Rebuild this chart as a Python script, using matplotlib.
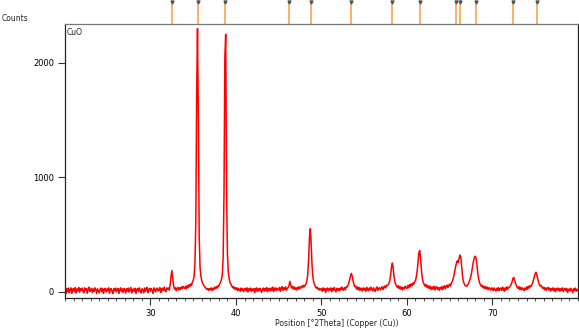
import numpy as np
import matplotlib
matplotlib.use("Agg")
import matplotlib.pyplot as plt
from matplotlib.ticker import MultipleLocator

# 2Theta grid (0.1 deg step) and counts, one row per degree
two_theta = np.round(np.arange(200, 801) / 10.0, 1)
counts = [
    10, -16, 26, 2, 32, -10, 18, 34, -14, 22,       # 20
    28, 0, 36, -12, 24, 8, 38, -4, 26, 12,          # 21
    32, 4, -10, 34, 10, 28, -14, 22, 40, 2,         # 22
    14, 30, -8, 24, 4, 34, 18, -16, 26, 8,          # 23
    -10, 22, 32, 0, 28, -14, 16, 30, -2, 24,        # 24
    8, 34, -12, 20, 28, 2, -16, 26, 10, 32,         # 25
    -2, 22, 30, -14, 18, 34, 4, 24, -8, 28,         # 26
    18, -12, 26, 6, 32, -4, 22, 36, -10, 16,        # 27
    24, 2, 30, -16, 22, 28, 0, 34, 8, -12,          # 28
    26, 12, -10, 32, 4, 24, 38, -8, 18, 30,         # 29
    4, 28, 10, -14, 34, 20, -2, 26, 32, 6,          # 30
    16, 36, -6, 24, 30, 8, 40, 14, 0, 34,           # 31
    20, 32, 14, 60, 130, 185, 120, 55, 24, 34,      # 32
    8, 30, 38, 14, 34, 20, 42, 26, 46, 34,          # 33
    28, 48, 24, 54, 36, 60, 46, 68, 56, 84,         # 34
    98, 135, 250, 600, 1700, 2300, 1500, 480, 210, 135,  # 35
    95, 74, 58, 48, 40, 28, 20, 30, 12, 26,         # 36
    16, 34, 10, 30, 18, 40, 26, 44, 32, 52,         # 37
    50, 70, 82, 108, 145, 300, 850, 2050, 2250, 900,  # 38
    330, 175, 115, 82, 66, 48, 36, 46, 24, 36,      # 39
    18, 34, 8, 30, 16, 4, 32, 12, 26, 0,            # 40
    22, 30, 6, 34, -2, 26, 12, 32, 4, 24,           # 41
    10, 28, -8, 22, 34, 2, 26, 8, 30, 14,           # 42
    -6, 24, 32, 4, 28, 10, 36, 0, 22, 30,           # 43
    6, 32, 12, 40, 2, 26, 34, 10, 30, 18,           # 44
    16, 38, 4, 30, 44, 12, 34, 20, 42, 14,          # 45
    30, 38, 52, 90, 62, 34, 48, 24, 42, 20,         # 46
    34, 16, 38, 22, 44, 26, 40, 50, 36, 56,         # 47
    44, 56, 70, 95, 150, 280, 470, 550, 420, 230,   # 48
    130, 85, 60, 44, 32, 40, 22, 30, 14, 26,        # 49
    24, 4, 34, 12, 28, -6, 22, 32, 8, 26,           # 50
    14, 34, 2, 28, 10, 38, 18, -2, 30, 12,          # 51
    26, 8, 32, 16, 40, 22, 12, 36, 18, 42,          # 52
    40, 55, 75, 105, 140, 160, 135, 95, 65, 45,     # 53
    48, 24, 42, 18, 36, 10, 32, 20, 6, 34,          # 54
    16, 30, 4, 38, 18, 8, 32, 14, 40, 20,           # 55
    6, 34, 18, 2, 30, 42, 12, 28, 36, 16,           # 56
    30, 44, 20, 38, 50, 32, 56, 52, 62, 74,         # 57
    100, 150, 215, 250, 200, 130, 85, 62, 48, 38,   # 58
    52, 28, 44, 22, 40, 16, 36, 26, 48, 36,         # 59
    28, 54, 34, 62, 44, 68, 52, 76, 66, 86,         # 60
    96, 130, 180, 260, 340, 360, 290, 190, 120, 85,  # 61
    68, 50, 64, 40, 54, 32, 50, 26, 44, 18,         # 62
    40, 24, 48, 16, 36, 44, 20, 34, 12, 38,         # 63
    24, 46, 18, 40, 52, 26, 44, 58, 36, 54,         # 64
    66, 50, 74, 88, 112, 140, 180, 220, 250, 270,   # 65
    255, 290, 320, 310, 220, 140, 95, 70, 55, 50,   # 66
    48, 62, 70, 90, 110, 140, 180, 230, 270, 300,   # 67
    310, 290, 230, 160, 110, 80, 62, 48, 56, 36,    # 68
    48, 28, 44, 24, 40, 18, 36, 26, 14, 34,         # 69
    28, 10, 34, 18, 6, 30, 14, 36, 8, 26,           # 70
    32, 12, 40, 20, 4, 34, 16, 42, 22, 38,          # 71
    40, 50, 64, 85, 115, 125, 100, 72, 52, 40,      # 72
    30, 44, 20, 38, 16, 34, 24, 10, 32, 18,         # 73
    40, 22, 48, 32, 52, 44, 58, 75, 100, 130,       # 74
    155, 170, 150, 115, 85, 62, 50, 56, 40, 30,     # 75
    40, 18, 34, 12, 30, 38, 16, 32, 6, 26,          # 76
    14, 34, 8, 28, 0, 24, 32, 10, 30, 4,            # 77
    26, 12, 34, 2, 22, 30, 8, 28, -6, 20,           # 78
    24, 6, 30, 12, -8, 26, 10, 32, 4, 22,           # 79
    14,                                             # 80
]

# reference pattern (CuO) positions shown as pins above the plot
ref_positions = [32.5, 35.5, 38.75, 46.25, 48.75, 53.5, 58.3, 61.5,
                 65.8, 66.25, 68.1, 72.4, 75.25]

x_ticks = [30, 40, 50, 60, 70]
y_ticks = [0, 1000, 2000]

fig = plt.figure(figsize=(5.79, 3.32), dpi=100)
ax = fig.add_axes([0.1123, 0.1024, 0.8857, 0.8253])

ax.plot(two_theta, counts, color="#ff0000", lw=1.1)

ax.set_xlim(20, 80)
ax.set_ylim(-55, 2340)
ax.set_xticks(x_ticks)
ax.set_xticklabels([str(t) for t in x_ticks])
ax.xaxis.set_minor_locator(MultipleLocator(1))
ax.set_yticks(y_ticks)
ax.set_yticklabels([str(t) for t in y_ticks])

ax.tick_params(axis="x", which="major", direction="out", length=5, width=0.8,
               labelsize=6, pad=3, color="#333333")
ax.tick_params(axis="x", which="minor", direction="out", length=2, width=0.6,
               color="#333333")
ax.tick_params(axis="y", which="major", direction="out", length=5, width=0.8,
               labelsize=6, pad=3, color="#333333")

for s in ["left", "bottom", "right"]:
    ax.spines[s].set_color("#222222")
    ax.spines[s].set_linewidth(0.9)
ax.spines["top"].set_color("#777777")
ax.spines["top"].set_linewidth(0.9)

# pins above the frame
trans = ax.get_xaxis_transform()
for p in ref_positions:
    ax.plot([p, p], [1.0, 1.078], transform=trans, color="#f5a040",
            lw=1.1, clip_on=False, solid_capstyle="butt")
    ax.plot([p], [1.082], transform=trans, marker="v", ms=2.2,
            color="#555555", clip_on=False)

ax.text(0.004, 0.985, "CuO", transform=ax.transAxes, fontsize=5.5,
        ha="left", va="top", color="#222222")
fig.text(0.002, 0.945, "Counts", fontsize=5.5, ha="left", va="center",
         color="#222222")
fig.text(275 / 579, 0.025, "Position [°2Theta] (Copper (Cu))", fontsize=5.5,
         ha="left", va="center", color="#222222")

fig.savefig("out.png", dpi=100)
